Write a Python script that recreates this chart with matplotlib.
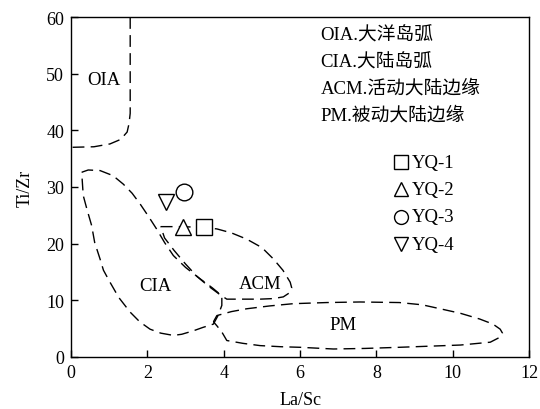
import matplotlib
matplotlib.use("Agg")
import matplotlib.pyplot as plt

plt.rcParams['font.family'] = ['Liberation Serif', 'Noto Sans CJK SC']

# Sample data (La/Sc, Ti/Zr)
samples = ["YQ-1", "YQ-2", "YQ-3", "YQ-4"]
la_sc = [3.47, 2.93, 2.96, 2.50]
ti_zr = [22.9, 22.9, 29.2, 27.3]
markers = ["s", "^", "o", "v"]

# Field boundaries
oia_x = [1.55, 1.55, 1.52, 1.47, 1.30, 1.02, 0.60, 0.0]
oia_y = [60.0, 43.0, 41.2, 39.7, 38.4, 37.6, 37.1, 37.0]

cia_x = [0.28, 0.45, 0.76, 1.10, 1.37, 1.60, 1.81, 2.03, 2.24, 2.45, 2.68, 3.00, 3.38, 3.70, 3.95,
         3.95, 3.85, 3.73, 3.45, 3.20, 2.90, 2.68, 2.35, 2.07, 1.80, 1.55, 1.25, 1.02, 0.85, 0.76,
         0.62, 0.54, 0.42, 0.32, 0.28]
cia_y = [32.6, 33.0, 32.9, 32.0, 30.5, 28.9, 27.0, 24.8, 22.6, 20.2, 17.9, 15.8, 13.8, 12.2, 10.8,
         9.1, 7.3, 5.8, 5.2, 4.6, 4.0, 3.8, 4.2, 4.9, 6.2, 7.9, 10.5, 13.2, 15.3, 17.3,
         20.2, 23.2, 26.0, 28.5, 32.6]

acm_x = [2.35, 2.80, 3.40, 3.82, 4.20, 4.60, 5.00, 5.30, 5.55, 5.74, 5.78, 5.74, 5.56, 5.30, 4.95,
         4.50, 4.08, 3.90, 3.60, 3.30, 3.00, 2.70, 2.45, 2.35]
acm_y = [23.0, 23.0, 22.9, 22.6, 21.9, 20.8, 19.3, 17.3, 15.3, 13.2, 12.2, 11.4, 10.6, 10.3, 10.2,
         10.2, 10.2, 11.0, 12.5, 14.2, 16.4, 18.8, 21.0, 23.0]

pm_x = [3.73, 3.82, 4.20, 4.60, 5.20, 5.82, 6.70, 7.57, 8.60, 9.20, 9.67, 10.20, 10.70, 11.05, 11.24,
        11.30, 11.24, 10.98, 10.20, 9.40, 8.60, 7.70, 6.87, 6.00, 5.50, 4.95, 4.50, 4.08, 3.95, 3.82, 3.73]
pm_y = [6.2, 7.3, 8.0, 8.5, 9.0, 9.4, 9.6, 9.7, 9.6, 9.2, 8.5, 7.7, 6.7, 5.8, 4.9,
        4.2, 3.5, 2.6, 2.1, 1.9, 1.7, 1.5, 1.4, 1.7, 1.8, 2.0, 2.4, 2.9, 4.4, 5.5, 6.2]

field_names = ["OIA", "CIA", "ACM", "PM"]
field_label_x = [0.85, 2.2, 4.95, 7.13]
field_label_y = [49.0, 12.6, 12.9, 5.8]

legend_text = ["OIA.大洋岛弧", "CIA.大陆岛弧", "ACM.活动大陆边缘", "PM.被动大陆边缘"]

x_ticks = [0, 2, 4, 6, 8, 10, 12]
y_ticks = [0, 10, 20, 30, 40, 50, 60]

fig = plt.figure(figsize=(5.4, 4.1), dpi=100)
ax = fig.add_axes([0.1315, 0.127, 0.8485, 0.829])

dash = dict(color='black', lw=1.0, dashes=(8.5, 4.5))
for xs, ys in [(oia_x, oia_y), (cia_x, cia_y), (acm_x, acm_y), (pm_x, pm_y)]:
    ax.plot(xs, ys, **dash)

for n, lx, ly in zip(field_names, field_label_x, field_label_y):
    ax.text(lx, ly, n, fontsize=13.5, ha='center', va='center')

for s, x, y, m in zip(samples, la_sc, ti_zr, markers):
    ax.plot([x], [y], linestyle='none', marker=m, markersize=12, markerfacecolor='white',
            markeredgecolor='black', markeredgewidth=1.0)

# Field-name list
for i, t in enumerate(legend_text):
    ax.text(0.545, 0.948 - i * 0.0785, t, transform=ax.transAxes, fontsize=13.5,
            ha='left', va='center')

# Sample key
key_y0, key_dy = 0.5735, 0.0805
for i, (s, m) in enumerate(zip(samples, markers)):
    ky = key_y0 - i * key_dy
    ax.plot([0.7205], [ky], transform=ax.transAxes, linestyle='none', marker=m,
            markersize=10, markerfacecolor='white', markeredgecolor='black',
            markeredgewidth=1.0, clip_on=False)
    ax.text(0.7445, ky, s, transform=ax.transAxes, fontsize=13.5, ha='left', va='center')

ax.set_xlim(0, 12)
ax.set_ylim(0, 60)
ax.set_xticks(x_ticks)
ax.set_yticks(y_ticks)
ax.tick_params(direction='in', length=5, width=1, labelsize=13, top=False, right=False, pad=5)
ax.set_xlabel("La/Sc", fontsize=13, labelpad=7)
ax.set_ylabel("Ti/Zr", fontsize=13, labelpad=9)
for sp in ax.spines.values():
    sp.set_linewidth(1.0)

fig.savefig("out.png", dpi=100)
